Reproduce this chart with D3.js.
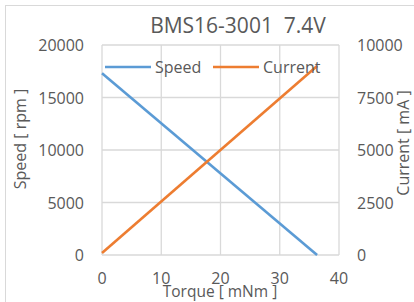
<!DOCTYPE html>
<html>
<head>
<meta charset="utf-8">
<script src="https://cdn.jsdelivr.net/npm/d3@7"></script>
<style>
  html, body { margin: 0; padding: 0; background: #fff; }
  svg text { font-family: "Open Sans", sans-serif; fill: #595959; }
</style>
</head>
<body>
<svg id="chart" width="414" height="302"></svg>
<script>
// chart data
const torque = [0, 36.3];
const speed = [17300, 0];
const current = [100, 9000];
const xTicks = [0, 10, 20, 30, 40];
const speedTicks = [0, 5000, 10000, 15000, 20000];
const currentTicks = [0, 2500, 5000, 7500, 10000];
const seriesNames = ['Speed', 'Current'];
const seriesColors = ['#5b9bd5', '#ed7d31'];

let svg = d3.select('#chart');
let margin = {left: 102, right: 75, top: 45, bottom: 47};
let width = 414, height = 302;

let x = d3.scaleLinear().domain([0, 40]).range([margin.left, width - margin.right]);
let ySpeed = d3.scaleLinear().domain([0, 20000]).range([height - margin.bottom, margin.top]);
let yCurrent = d3.scaleLinear().domain([0, 10000]).range([height - margin.bottom, margin.top]);

// Outer border.
svg.append('rect')
    .attr('x', 5.5).attr('y', 5.5)
    .attr('width', 420).attr('height', 310)
    .attr('fill', 'none')
    .attr('stroke', '#d9d9d9');

// Gridlines.
svg.append('g')
    .selectAll('line')
    .data(xTicks)
  .enter().append('line')
    .attr('x1', d => x(d)).attr('x2', d => x(d))
    .attr('y1', ySpeed(0)).attr('y2', ySpeed(20000))
    .attr('stroke', '#d9d9d9').attr('stroke-width', 1.3);

svg.append('g')
    .selectAll('line')
    .data(speedTicks)
  .enter().append('line')
    .attr('x1', x(0)).attr('x2', x(40))
    .attr('y1', d => ySpeed(d)).attr('y2', d => ySpeed(d))
    .attr('stroke', '#d9d9d9').attr('stroke-width', 1.3);

// Tick labels.
svg.append('g')
    .selectAll('text')
    .data(xTicks)
  .enter().append('text')
    .attr('x', d => x(d)).attr('y', 284)
    .attr('text-anchor', 'middle')
    .style('font-size', '16px')
    .text(d => d);

svg.append('g')
    .selectAll('text')
    .data(speedTicks)
  .enter().append('text')
    .attr('x', 84).attr('y', d => ySpeed(d) + 6)
    .attr('text-anchor', 'end')
    .style('font-size', '16px')
    .text(d => d);

svg.append('g')
    .selectAll('text')
    .data(currentTicks)
  .enter().append('text')
    .attr('x', 357).attr('y', d => yCurrent(d) + 6)
    .attr('text-anchor', 'start')
    .style('font-size', '16px')
    .text(d => d);

// Axis titles.
svg.append('text')
    .attr('x', 220).attr('y', 297)
    .attr('text-anchor', 'middle')
    .style('font-size', '15.5px')
    .text('Torque [ mNm ]');

svg.append('text')
    .attr('transform', 'translate(26,139) rotate(-90)')
    .attr('text-anchor', 'middle')
    .style('font-size', '16px')
    .text('Speed [ rpm ]');

svg.append('text')
    .attr('transform', 'translate(409,143) rotate(-90)')
    .attr('text-anchor', 'middle')
    .style('font-size', '16px')
    .text('Current [ mA ]');

// Title.
svg.append('text')
    .attr('x', 238).attr('y', 33)
    .attr('text-anchor', 'middle')
    .style('font-size', '21px')
    .style('white-space', 'pre')
    .text('BMS16-3001  7.4V');

// Lines.
let speedLine = d3.line().x(d => x(d[0])).y(d => ySpeed(d[1]));
let currentLine = d3.line().x(d => x(d[0])).y(d => yCurrent(d[1]));

svg.append('path')
    .datum(d3.zip(torque, speed))
    .attr('d', speedLine)
    .attr('fill', 'none')
    .attr('stroke', seriesColors[0])
    .attr('stroke-width', 2.6);

svg.append('path')
    .datum(d3.zip(torque, current))
    .attr('d', currentLine)
    .attr('fill', 'none')
    .attr('stroke', seriesColors[1])
    .attr('stroke-width', 2.6);

// Legend.
let legendX = [105, 213];
let legend = svg.append('g')
    .selectAll('g')
    .data(seriesNames)
  .enter().append('g')
    .attr('transform', (d, i) => 'translate(' + legendX[i] + ',67)');

legend.append('line')
    .attr('x1', 0).attr('x2', 46)
    .attr('stroke', (d, i) => seriesColors[i])
    .attr('stroke-width', 2.6);

legend.append('text')
    .attr('x', 50).attr('y', 6)
    .style('font-size', '16px')
    .text(d => d);
</script>
</body>
</html>
